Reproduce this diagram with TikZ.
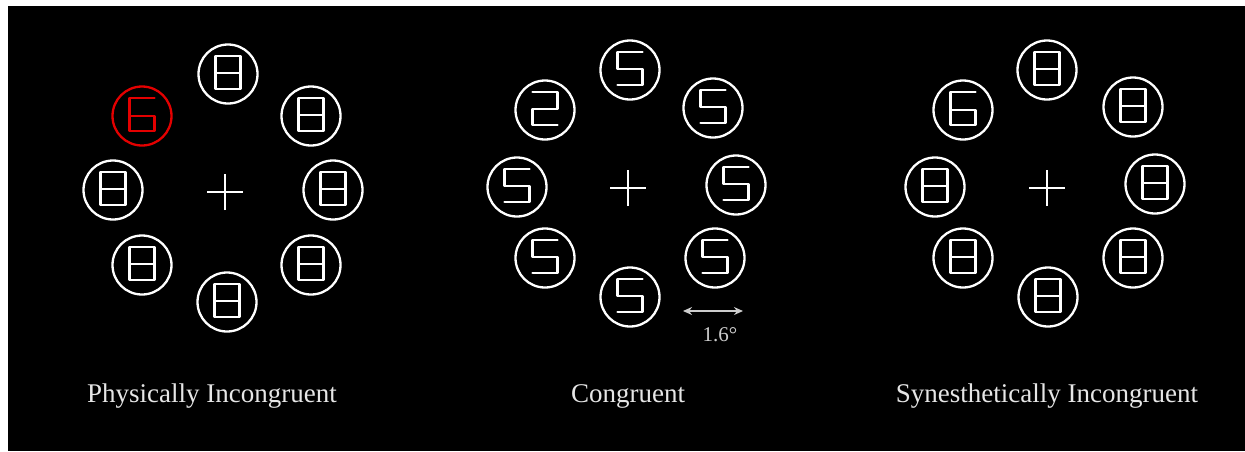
\documentclass[tikz,border=0pt]{standalone}
\usepackage{fontspec}
\setmainfont{Liberation Serif}
\usetikzlibrary{arrows.meta}
\definecolor{stimred}{RGB}{228,0,0}
\definecolor{labelgray}{RGB}{230,230,230}
\definecolor{deggray}{RGB}{205,205,205}
\tikzset{
  seg/.style={line width=2.1pt, line join=round, line cap=round},
  ring/.style={circle, draw, line width=2.3pt, minimum size=59pt, inner sep=0pt},
  pics/eight/.style={code={\draw[seg] (-12.5,-18) rectangle (12.5,15) (-12.5,-1) -- (12.5,-1);}},
  pics/five/.style={code={\draw[seg] (12.5,-18) -- (-12.5,-18) -- (-12.5,-1) -- (12.5,-1) -- (12.5,15) -- (-12.5,15);}},
  pics/two/.style={code={\draw[seg] (-12.5,-18) -- (12.5,-18) -- (12.5,-1) -- (-12.5,-1) -- (-12.5,15) -- (12.5,15);}},
  pics/six/.style={code={\draw[seg] (12.5,-18) -- (-12.5,-18) -- (-12.5,15) -- (12.5,15) -- (12.5,0) -- (-12.5,0);}},
  fixcross/.style={line width=2.1pt},
  caption/.style={text=labelgray, anchor=base, inner sep=0pt, font=\fontsize{27}{32}\selectfont},
  degree/.style={text=deggray, anchor=base, inner sep=0pt, font=\fontsize{21}{25}\selectfont},
}
\begin{document}
\begin{tikzpicture}[x=1pt, y=-1pt, white]
\useasboundingbox (0,0) rectangle (1245,451);
\fill[white] (0,0) rectangle (1245,451);
\fill[black] (8,6) rectangle (1245,451);

% ---------- Panel 1: Physically Incongruent ----------
\node[ring] (a1) at (228,74) {};
\node[ring, stimred] (a2) at (142,116) {};
\node[ring] (a3) at (311,116) {};
\node[ring] (a4) at (113,190) {};
\node[ring] (a5) at (333,190) {};
\node[ring] (a6) at (142,265) {};
\node[ring] (a7) at (311,265) {};
\node[ring] (a8) at (227,302) {};
\pic at (a1) {eight};
\pic[stimred] at (a2) {six};
\pic at (a3) {eight};
\pic at (a4) {eight};
\pic at (a5) {eight};
\pic at (a6) {eight};
\pic at (a7) {eight};
\pic at (a8) {eight};
\coordinate (ac) at (225,192);
\draw[fixcross] ([xshift=-18pt]ac) -- ([xshift=18pt]ac) ([yshift=-18pt]ac) -- ([yshift=18pt]ac);
\node[caption] (alab) at (212,402) {Physically Incongruent};

% ---------- Panel 2: Congruent ----------
\node[ring] (b1) at (630,70) {};
\node[ring] (b2) at (545,110) {};
\node[ring] (b3) at (713,108) {};
\node[ring] (b4) at (517,187) {};
\node[ring] (b5) at (736,185) {};
\node[ring] (b6) at (545,258) {};
\node[ring] (b7) at (715,258) {};
\node[ring] (b8) at (630,297) {};
\pic at (b1) {five};
\pic at (b2) {two};
\pic at (b3) {five};
\pic at (b4) {five};
\pic at (b5) {five};
\pic at (b6) {five};
\pic at (b7) {five};
\pic at (b8) {five};
\coordinate (bc) at (628,188);
\draw[fixcross] ([xshift=-18pt]bc) -- ([xshift=18pt]bc) ([yshift=-18pt]bc) -- ([yshift=18pt]bc);
\coordinate (arL) at (683,311);
\coordinate (arR) at (743,311);
\draw[deggray, line width=1.7pt, {Stealth[length=9pt,width=8pt]}-{Stealth[length=9pt,width=8pt]}] (arL) -- (arR);
\node[degree] (deg) at (720,341) {1.6°};
\node[caption] (blab) at (628,402) {Congruent};

% ---------- Panel 3: Synesthetically Incongruent ----------
\node[ring] (c1) at (1047,70) {};
\node[ring] (c2) at (963,110) {};
\node[ring] (c3) at (1133,107) {};
\node[ring] (c4) at (935,187) {};
\node[ring] (c5) at (1155,184) {};
\node[ring] (c6) at (963,258) {};
\node[ring] (c7) at (1133,258) {};
\node[ring] (c8) at (1048,297) {};
\pic at (c1) {eight};
\pic at (c2) {six};
\pic at (c3) {eight};
\pic at (c4) {eight};
\pic at (c5) {eight};
\pic at (c6) {eight};
\pic at (c7) {eight};
\pic at (c8) {eight};
\coordinate (cc) at (1047,188);
\draw[fixcross] ([xshift=-18pt]cc) -- ([xshift=18pt]cc) ([yshift=-18pt]cc) -- ([yshift=18pt]cc);
\node[caption] (clab) at (1047,402) {Synesthetically Incongruent};
\end{tikzpicture}
\end{document}
